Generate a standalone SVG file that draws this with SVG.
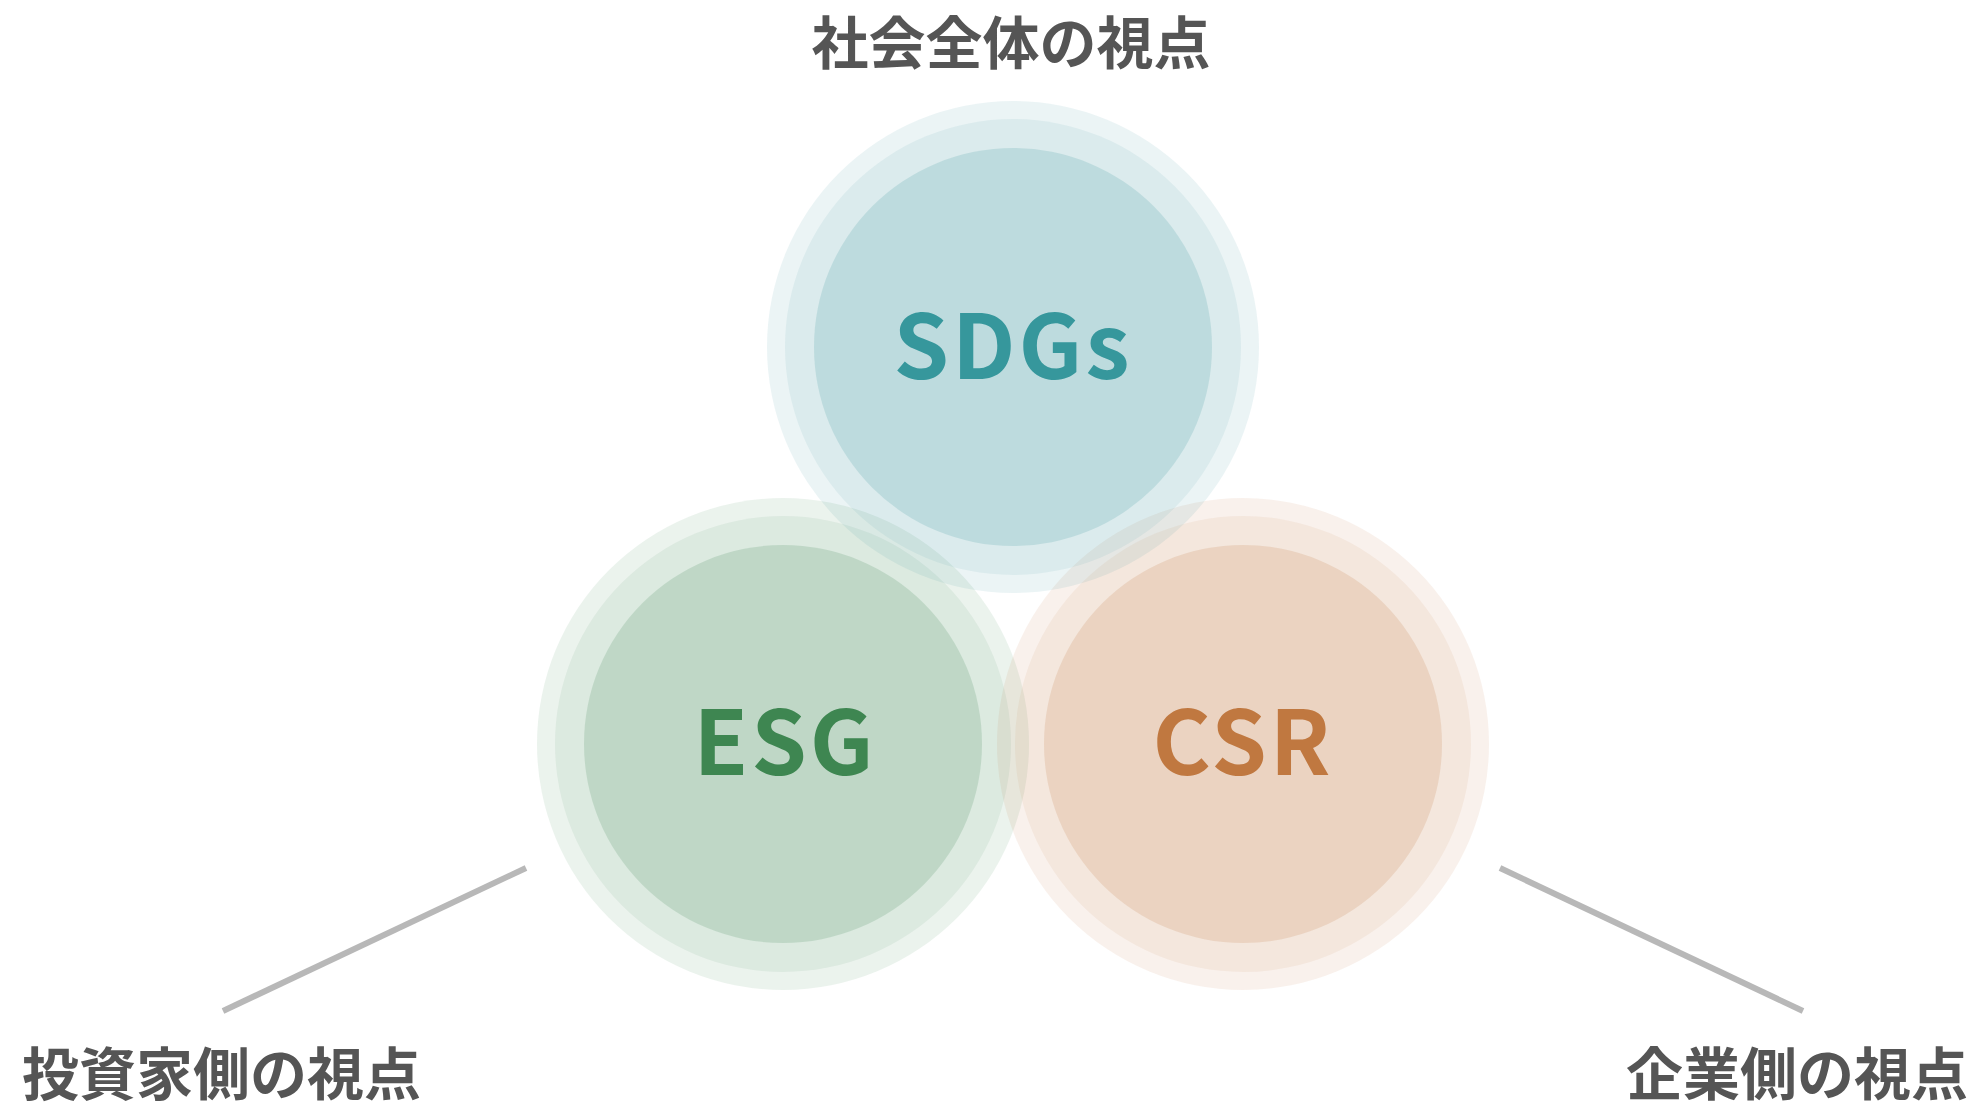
<svg xmlns="http://www.w3.org/2000/svg" width="1977" height="1104" viewBox="0 0 1977 1104">
<style>
.r1{opacity:0.1}
.r2{opacity:0.082}
.r3{opacity:0.18}
.teal{fill:#36979C}
.green{fill:#3E8651}
.orange{fill:#C07840}
.big{font-family:"Noto Sans CJK JP","Noto Sans",sans-serif;font-weight:700;font-size:89px;text-anchor:middle;letter-spacing:3px}
.lbl{font-family:"Noto Sans CJK JP",sans-serif;font-weight:700;font-size:57px;fill:#555555}
.conn{stroke:#B8B8B8;stroke-width:6;fill:none}
</style>
<rect width="1977" height="1104" fill="#FFFFFF"/>
<g id="node-esg">
<circle class="green r1" cx="783" cy="744" r="246"/>
<circle class="green r2" cx="783" cy="744" r="228"/>
<circle class="green r3" cx="783" cy="744" r="199"/>
<text class="big green" x="785" y="775">ESG</text>
</g>
<g id="node-csr">
<circle class="orange r1" cx="1243" cy="744" r="246"/>
<circle class="orange r2" cx="1243" cy="744" r="228"/>
<circle class="orange r3" cx="1243" cy="744" r="199"/>
<text class="big orange" x="1243" y="775">CSR</text>
</g>
<g id="node-sdgs">
<circle class="teal r1" cx="1013" cy="347" r="246"/>
<circle class="teal r2" cx="1013" cy="347" r="228"/>
<circle class="teal r3" cx="1013" cy="347" r="199"/>
<text class="big teal" x="1013" y="379">SDGs</text>
</g>
<g id="connectors">
<line class="conn" x1="223" y1="1011" x2="526" y2="868"/>
<line class="conn" x1="1500" y1="868" x2="1803" y2="1011"/>
</g>
<g id="label-society">
<text class="lbl" x="1011" y="64" text-anchor="middle">社会全体の視点</text>
</g>
<g id="label-investor">
<text class="lbl" x="22" y="1095">投資家側の視点</text>
</g>
<g id="label-company">
<text class="lbl" x="1968" y="1095" text-anchor="end">企業側の視点</text>
</g>
</svg>
